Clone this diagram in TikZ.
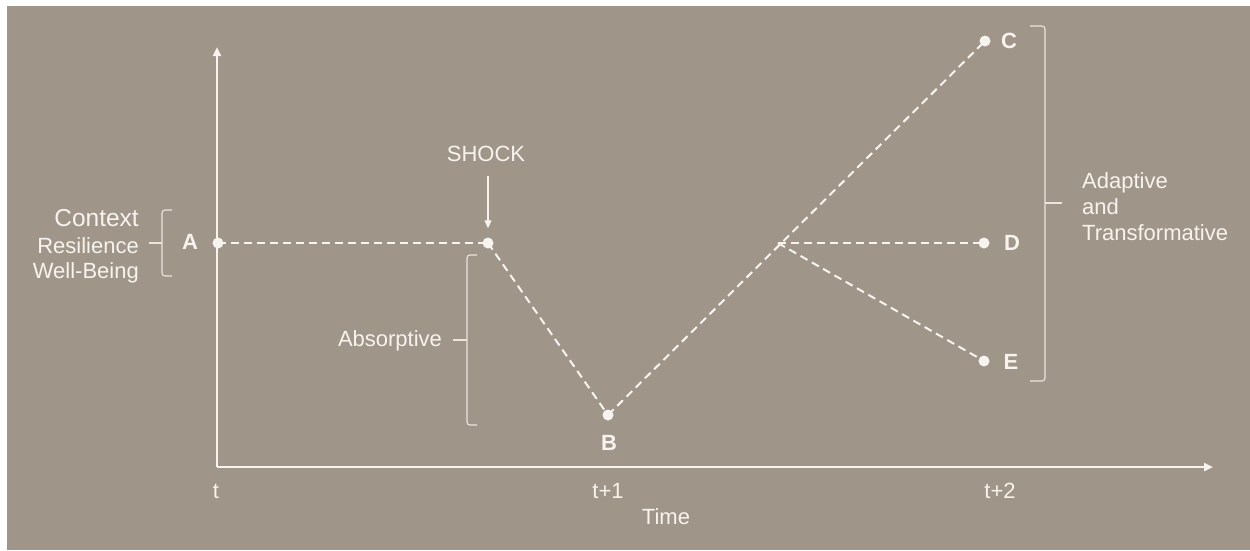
\documentclass[tikz,border=0pt]{standalone}
\usepackage{fontspec}
\setmainfont{Liberation Sans}
\usetikzlibrary{arrows.meta}
\definecolor{bg}{RGB}{160,149,137}
\definecolor{fg}{RGB}{247,243,238}
\definecolor{br}{RGB}{236,229,220}
\begin{document}
\begin{tikzpicture}[x=1pt,y=-1pt,
  dot/.style={circle,fill=fg,inner sep=0pt,minimum size=11pt},
  lbl/.style={text=fg,inner sep=0pt,font=\fontsize{22}{26}\selectfont},
  blbl/.style={text=fg,inner sep=0pt,font=\fontsize{22}{26}\selectfont\bfseries},
  dashline/.style={draw=fg,line width=2pt,dash pattern=on 8pt off 5pt},
  axis/.style={draw=fg,line width=2.4pt,-{Triangle[length=9pt,width=8pt]}},
  bracket/.style={draw=br,line width=1.1pt,rounded corners=3pt}]
\useasboundingbox (0,0) rectangle (1250,550);
\fill[white] (0,0) rectangle (1250,550);
\fill[bg] (7,6) rectangle (1250,550);

% axes
\coordinate (O) at (217,467);
\coordinate (Ytop) at (217,47);
\coordinate (Xend) at (1213,467);
\draw[axis] (O) -- (Ytop);
\draw[axis] (O) -- (Xend);

% points
\coordinate (Q) at (778,243);
\node[dot] (A) at (218,243) {};
\node[dot] (P) at (488,243) {};
\node[dot] (B) at (608,415) {};
\node[dot] (C) at (985,41) {};
\node[dot] (D) at (984,243) {};
\node[dot] (E) at (984,361) {};

% dashed paths
\draw[dashline] (A.center) -- (P.center);
\draw[dashline] (P.center) -- (B.center);
\draw[dashline] (B.center) -- (C.center);
\draw[dashline] (Q) -- (D.center);
\draw[dashline] (Q) -- (E.center);

% point labels
\node[blbl,anchor=base] (lA) at (190,249) {A};
\node[blbl,anchor=base] (lB) at (609,450) {B};
\node[blbl,anchor=base] (lC) at (1009,48) {C};
\node[blbl,anchor=base] (lD) at (1012,250) {D};
\node[blbl,anchor=base] (lE) at (1011,369) {E};

% shock
\node[lbl,anchor=base] (shock) at (486,161) {SHOCK};
\draw[draw=fg,line width=1.3pt,-{Triangle[length=8pt,width=7pt]},shorten <=15pt,shorten >=9pt] (shock.south -| P.center) -- (P.north);

% axis labels
\node[lbl,anchor=base] (t0) at (216,498) {t};
\node[lbl,anchor=base] (t1) at (608,498) {t+1};
\node[lbl,anchor=base] (t2) at (1000,498) {t+2};
\node[lbl,anchor=base] (time) at (666,524) {Time};

% left context
\node[text=fg,inner sep=0pt,font=\fontsize{24.5}{28}\selectfont,anchor=base east] (ctx) at (139,226) {Context};
\node[lbl,anchor=base east] (res) at (139,253) {Resilience};
\node[lbl,anchor=base east] (wb) at (139,278) {Well-Being};
\draw[bracket] (172,210) -- (162,210) -- (162,276) -- (172,276);
\draw[draw=br,line width=1.1pt] (162,243) -- (149,243);

% absorptive
\draw[bracket] (477,255) -- (467,255) -- (467,425) -- (477,425);
\draw[draw=br,line width=1.1pt] (467,340) -- (453,340);
\node[lbl,anchor=base] (abs) at (390,346) {Absorptive};

% adaptive
\draw[bracket] (1030,26) -- (1045,26) -- (1045,381) -- (1030,381);
\draw[draw=br,line width=1.1pt] (1045,203) -- (1062,203);
\node[lbl,anchor=base west] (ad1) at (1082,188) {Adaptive};
\node[lbl,anchor=base west] (ad2) at (1082,214) {and};
\node[lbl,anchor=base west] (ad3) at (1082,240) {Transformative};
\end{tikzpicture}
\end{document}
